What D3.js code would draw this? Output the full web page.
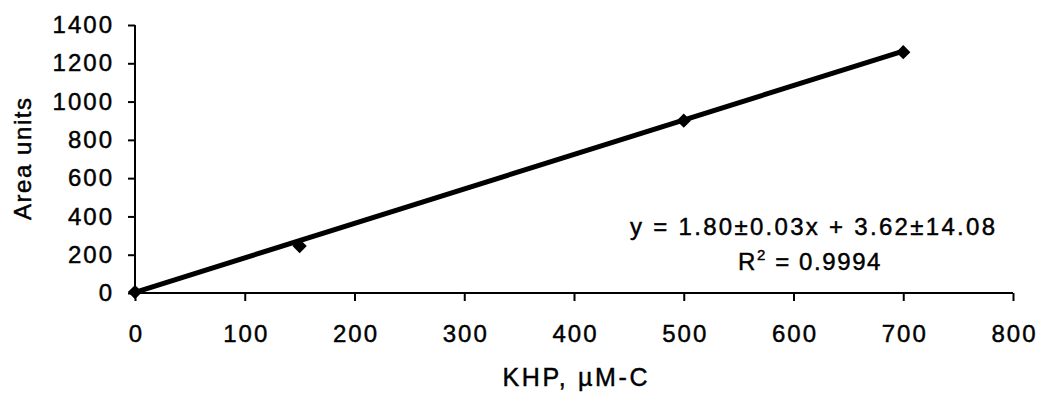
<!DOCTYPE html>
<html>
<head>
<meta charset="utf-8">
<script src="https://cdn.jsdelivr.net/npm/d3@7"></script>
<style>
  html, body { margin: 0; padding: 0; background: #fff; }
  svg text { font-family: "Liberation Sans", Arial, sans-serif; fill: #000; stroke: #000; stroke-width: 0.45px; }
</style>
</head>
<body>
<svg id="chart" width="1044" height="396"></svg>
<script>
// KHP calibration: concentration (µM-C) vs. peak area
const concentrations = [0, 150, 500, 700];
const areas = [5, 245, 900, 1258];
const xTicks = [0, 100, 200, 300, 400, 500, 600, 700, 800];
const yTicks = [0, 200, 400, 600, 800, 1000, 1200, 1400];
const slope = 1.80;
const intercept = 3.62;
const equationText = "y = 1.80±0.03x + 3.62±14.08";
const r2Text = "0.9994";
const xTitle = "KHP, µM-C";
const yTitle = "Area units";

const svg = d3.select("#chart");
const x = d3.scaleLinear().domain([0, 800]).range([135, 1013]);
const y = d3.scaleLinear().domain([0, 1400]).range([293, 25]);

// Axes
const xAxis = svg.append("g").attr("transform", `translate(0,${y(0)})`)
  .call(d3.axisBottom(x).tickValues(xTicks).tickSize(8).tickPadding(24).tickFormat(d3.format("d")));
const yAxis = svg.append("g").attr("transform", `translate(${x(0)},0)`)
  .call(d3.axisLeft(y).tickValues(yTicks).tickSize(7).tickPadding(14).tickFormat(d3.format("d")));
[xAxis, yAxis].forEach(g => {
  g.selectAll(".tick line").attr("stroke", "#000").attr("stroke-width", 2);
  g.selectAll(".tick text").attr("font-size", 24).attr("fill", "#000")
    .attr("font-family", "'Liberation Sans', Arial, sans-serif")
    .attr("letter-spacing", "2px");
});
xAxis.selectAll(".tick text").attr("dx", 1);
xAxis.select(".domain").attr("stroke", "#000").attr("stroke-width", 2)
  .attr("d", `M${x(0)},0H${x(800)}`);
yAxis.select(".domain").attr("stroke", "#000").attr("stroke-width", 2)
  .attr("d", `M0,${y(1400)}V${y(0)}`);

// Linear fit line
svg.append("line")
  .attr("x1", x(0)).attr("y1", y(intercept))
  .attr("x2", x(700)).attr("y2", y(slope * 700 + intercept))
  .attr("stroke", "#000").attr("stroke-width", 5).attr("stroke-linecap", "butt");

// Data markers
svg.append("g").selectAll("path")
  .data(concentrations.map((c, i) => [c, areas[i]]))
  .join("path")
  .attr("transform", d => `translate(${x(d[0])},${y(d[1])})`)
  .attr("d", d3.symbol(d3.symbolDiamond2, 130)())
  .attr("fill", "#000");

// Axis titles
svg.append("text")
  .attr("transform", `translate(31,${(y(0) + y(1400)) / 2}) rotate(-90)`)
  .attr("text-anchor", "middle").attr("font-size", 24)
  .attr("textLength", 122).attr("lengthAdjust", "spacing").text(yTitle);
svg.append("text")
  .attr("x", 575).attr("y", 386)
  .attr("text-anchor", "middle").attr("font-size", 25)
  .attr("textLength", 145).attr("lengthAdjust", "spacing").text(xTitle);

// Regression annotation
svg.append("text")
  .attr("x", 630).attr("y", 235)
  .attr("font-size", 24)
  .attr("textLength", 365).attr("lengthAdjust", "spacing").text(equationText);
const r2 = svg.append("text")
  .attr("x", 738).attr("y", 270)
  .attr("font-size", 24).attr("letter-spacing", "1.6px");
r2.append("tspan").text("R");
r2.append("tspan").attr("font-size", 15).attr("dy", -10).text("2");
r2.append("tspan").attr("dy", 10).text(" = " + r2Text);
</script>
</body>
</html>
